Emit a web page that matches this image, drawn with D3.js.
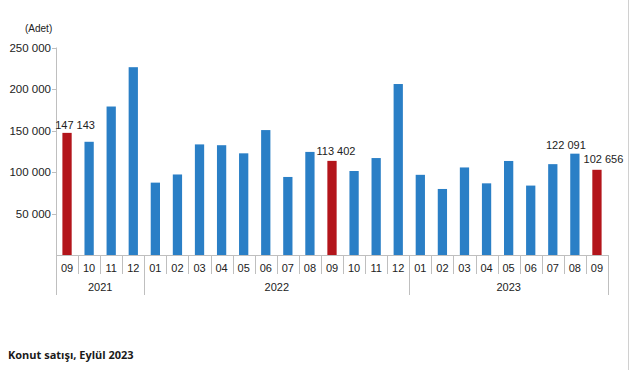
<!DOCTYPE html>
<html>
<head>
<meta charset="utf-8">
<script src="https://cdn.jsdelivr.net/npm/d3@7"></script>
<style>
  body { margin: 0; background: #fff; }
  svg text { font-family: "Liberation Sans", Arial, sans-serif; }
</style>
</head>
<body>
<div id="chart"></div>
<script>
// Konut satışı (Adet), 2021-09 .. 2023-09
const months = ['09','10','11','12','01','02','03','04','05','06','07','08','09','10','11','12','01','02','03','04','05','06','07','08','09'];
const years = ['2021','2021','2021','2021','2022','2022','2022','2022','2022','2022','2022','2022','2022','2022','2022','2022','2023','2023','2023','2023','2023','2023','2023','2023','2023'];
const sales = [147143, 136402, 178897, 226269, 87190, 97017, 133250, 132277, 122498, 150509, 94018, 124196, 113402, 101200, 116800, 206000, 96597, 79554, 105476, 86343, 113276, 83636, 109460, 122091, 102656];
const highlight = [0, 12, 24];          // red bars
const labelled = [0, 12, 23, 24];        // bars with value labels
const yTicks = [50000, 100000, 150000, 200000, 250000];

const W = 634, H = 370;
const margin = { left: 56, right: 26, top: 48, bottom: 115 };

const svg = d3.select('#chart').append('svg')
  .attr('width', W).attr('height', H);

const keys = months.map((m, i) => i);
const x = d3.scaleBand().domain(keys).range([margin.left, 608]).paddingInner(0.58).paddingOuter(0.29);
const y = d3.scaleLinear().domain([0, 250000]).range([255, 47.5]);

const fmt = v => d3.format(',')(v).replace(/,/g, ' ');

// y axis line + ticks
svg.append('line')
  .attr('x1', margin.left + 0.5).attr('x2', margin.left + 0.5)
  .attr('y1', y(250000)).attr('y2', y(0))
  .attr('stroke', '#bfbfbf');
svg.selectAll('.ytick').data(yTicks).enter().append('line')
  .attr('x1', margin.left - 4).attr('x2', margin.left)
  .attr('y1', d => Math.round(y(d)) + 0.5).attr('y2', d => Math.round(y(d)) + 0.5)
  .attr('stroke', '#bfbfbf');
svg.selectAll('.ylab').data(yTicks).enter().append('text')
  .attr('x', margin.left - 5).attr('y', d => y(d) + 4)
  .attr('text-anchor', 'end').attr('font-size', 11.5).attr('fill', '#222')
  .text(fmt);

svg.append('text').attr('x', 25).attr('y', 32)
  .attr('font-size', 10).attr('fill', '#222').text('(Adet)');

// bars
svg.selectAll('.bar').data(sales).enter().append('rect')
  .attr('x', (d, i) => x(i)).attr('width', x.bandwidth())
  .attr('y', d => y(d)).attr('height', d => y(0) - y(d))
  .attr('fill', (d, i) => highlight.includes(i) ? '#b3151b' : '#2a7fc6');

// value labels (small offsets as in the original)
const dx = { 0: 8, 12: 4, 23: -9, 24: 6.5 };
const dy = { 0: 4, 12: 6, 23: 5, 24: 7 };
svg.selectAll('.vlab').data(labelled).enter().append('text')
  .attr('x', i => x(i) + x.bandwidth() / 2 + dx[i])
  .attr('y', i => y(sales[i]) - dy[i])
  .attr('text-anchor', 'middle').attr('font-size', 11).attr('fill', '#222')
  .text(i => fmt(sales[i]));

// x axis
const step = x.step();
const x0 = margin.left;
svg.append('line')
  .attr('x1', x0).attr('x2', 608).attr('y1', 255.5).attr('y2', 255.5)
  .attr('stroke', '#bfbfbf');
svg.selectAll('.mtick').data(d3.range(months.length + 1)).enter().append('line')
  .attr('x1', i => Math.round(x0 + i * step) + 0.5).attr('x2', i => Math.round(x0 + i * step) + 0.5)
  .attr('y1', 255)
  .attr('y2', i => (i === 0 || i === months.length || years[i] !== years[i - 1]) ? 295 : 274)
  .attr('stroke', '#bfbfbf');
svg.selectAll('.mlab').data(months).enter().append('text')
  .attr('x', (d, i) => x(i) + x.bandwidth() / 2).attr('y', 272)
  .attr('text-anchor', 'middle').attr('font-size', 11).attr('fill', '#222')
  .text(d => d);

const yearGroups = d3.groups(keys, i => years[i]);
svg.selectAll('.ylab2').data(yearGroups).enter().append('text')
  .attr('x', d => (x(d[1][0]) + x(d[1][d[1].length - 1]) + x.bandwidth()) / 2)
  .attr('y', 291)
  .attr('text-anchor', 'middle').attr('font-size', 11).attr('fill', '#222')
  .text(d => d[0]);

// right border
svg.append('line').attr('x1', 628.5).attr('x2', 628.5).attr('y1', 0).attr('y2', H)
  .attr('stroke', '#d0d0d0');

// caption
svg.append('text').attr('x', 8).attr('y', 359)
  .style('font-family', '"Open Sans", sans-serif')
  .attr('font-size', 11).attr('font-weight', 'bold').attr('fill', '#1a1a1a')
  .text('Konut satışı, Eylül 2023');
</script>
</body>
</html>
